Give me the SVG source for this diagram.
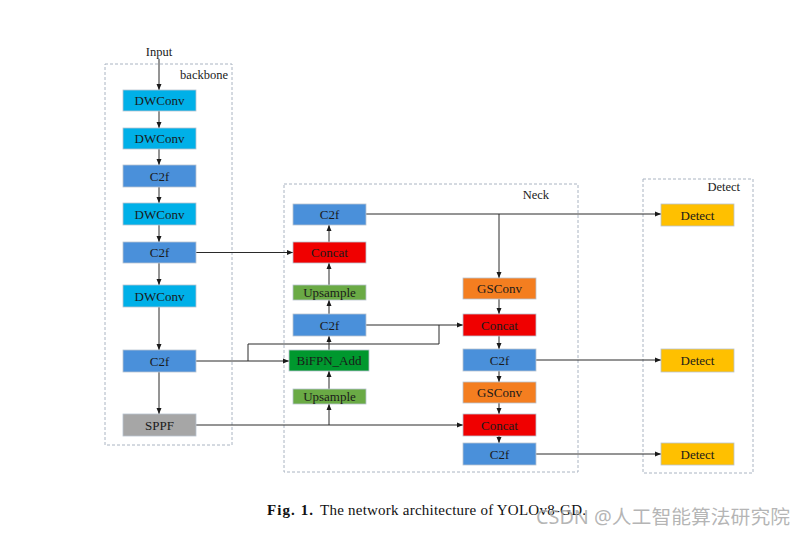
<svg xmlns="http://www.w3.org/2000/svg" width="805" height="536" viewBox="0 0 805 536">
<style>
.n{stroke:#b8c4d0;stroke-width:0.8}
.t{font-family:"Liberation Serif","Times New Roman",serif;font-size:13px;fill:#1a1a1a;text-anchor:middle;dominant-baseline:central}
.lbl{font-family:"Liberation Serif","Times New Roman",serif;font-size:12.5px;fill:#1a1a1a}
.grp{fill:none;stroke:#aab4c2;stroke-width:1;stroke-dasharray:3,2}
.dw{fill:#00B0E8}.c2f{fill:#4A90DA}.cc{fill:#F00000}.up{fill:#6AAA45}.bi{fill:#00982E}.gs{fill:#F47E20}.de{fill:#FFC000}.sp{fill:#A6A6A6}
#conn path{fill:none;stroke:#2a2a2a;stroke-width:1}
</style>
<defs>
<marker id="ah" markerWidth="6" markerHeight="6" refX="6" refY="3" orient="auto" markerUnits="userSpaceOnUse"><path d="M0,0.5 L6,3 L0,5.5 z" fill="#1a1a1a"/></marker>
</defs>
<rect width="805" height="536" fill="#fff"/>
<!-- groups -->
<g id="backbone-group"><rect class="grp" x="105" y="64" width="127" height="381"/><text class="lbl" x="228" y="79" text-anchor="end">backbone</text></g>
<g id="neck-group"><rect class="grp" x="284" y="184" width="294" height="288"/><text class="lbl" x="549" y="199" text-anchor="end">Neck</text></g>
<g id="detect-group"><rect class="grp" x="643" y="179" width="110" height="294"/><text class="lbl" x="740" y="191" text-anchor="end">Detect</text></g>
<text class="lbl" x="159" y="56" text-anchor="middle">Input</text>
<!-- connectors -->
<g id="conn">
<path d="M159,59 V90" marker-end="url(#ah)"/>
<path d="M159,111 V128" marker-end="url(#ah)"/>
<path d="M159,149 V165" marker-end="url(#ah)"/>
<path d="M159,187 V203" marker-end="url(#ah)"/>
<path d="M159,225 V242" marker-end="url(#ah)"/>
<path d="M159,263 V285" marker-end="url(#ah)"/>
<path d="M159,307 V350" marker-end="url(#ah)"/>
<path d="M159,372 V414" marker-end="url(#ah)"/>
<path d="M196,252.5 H293" marker-end="url(#ah)"/>
<path d="M196,361 H289" marker-end="url(#ah)"/>
<path d="M248,361 V344 H439 V325"/>
<path d="M366,325 H463" marker-end="url(#ah)"/>
<path d="M196,425 H463" marker-end="url(#ah)"/>
<path d="M329,425 V404" marker-end="url(#ah)"/>
<path d="M329,389 V371" marker-end="url(#ah)"/>
<path d="M329,350 V336" marker-end="url(#ah)"/>
<path d="M329,314 V300" marker-end="url(#ah)"/>
<path d="M329,285 V263" marker-end="url(#ah)"/>
<path d="M329,242 V225" marker-end="url(#ah)"/>
<path d="M366,214 H661" marker-end="url(#ah)"/>
<path d="M499,214 V278" marker-end="url(#ah)"/>
<path d="M499,299 V314" marker-end="url(#ah)"/>
<path d="M499,336 V349" marker-end="url(#ah)"/>
<path d="M499,371 V382" marker-end="url(#ah)"/>
<path d="M499,403 V414" marker-end="url(#ah)"/>
<path d="M499,436 V443" marker-end="url(#ah)"/>
<path d="M536,360 H661" marker-end="url(#ah)"/>
<path d="M536,454 H661" marker-end="url(#ah)"/>
</g>
<!-- backbone nodes -->
<g id="b-dwconv1"><rect class="n dw" x="123" y="90" width="73" height="21"/><text class="t" x="159.5" y="100.5">DWConv</text></g>
<g id="b-dwconv2"><rect class="n dw" x="123" y="128" width="73" height="21"/><text class="t" x="159.5" y="138.5">DWConv</text></g>
<g id="b-c2f1"><rect class="n c2f" x="123" y="165" width="73" height="22"/><text class="t" x="159.5" y="176">C2f</text></g>
<g id="b-dwconv3"><rect class="n dw" x="123" y="203" width="73" height="22"/><text class="t" x="159.5" y="214">DWConv</text></g>
<g id="b-c2f2"><rect class="n c2f" x="123" y="242" width="73" height="21"/><text class="t" x="159.5" y="252.5">C2f</text></g>
<g id="b-dwconv4"><rect class="n dw" x="123" y="285" width="73" height="22"/><text class="t" x="159.5" y="296">DWConv</text></g>
<g id="b-c2f3"><rect class="n c2f" x="123" y="350" width="73" height="22"/><text class="t" x="159.5" y="361">C2f</text></g>
<g id="b-sppf"><rect class="n sp" x="123" y="414" width="73" height="22"/><text class="t" x="159.5" y="425">SPPF</text></g>
<!-- neck left column -->
<g id="n-c2f-top"><rect class="n c2f" x="293" y="204" width="73" height="21"/><text class="t" x="329.5" y="214.5">C2f</text></g>
<g id="n-concat1"><rect class="n cc" x="293" y="242" width="73" height="21"/><text class="t" x="329.5" y="252.5">Concat</text></g>
<g id="n-upsample1"><rect class="n up" x="293" y="285" width="73" height="15"/><text class="t" x="329.5" y="292.5">Upsample</text></g>
<g id="n-c2f-mid"><rect class="n c2f" x="293" y="314" width="73" height="22"/><text class="t" x="329.5" y="325">C2f</text></g>
<g id="n-bifpn"><rect class="n bi" x="289" y="350" width="80" height="21"/><text class="t" x="329" y="360.5">BiFPN_Add</text></g>
<g id="n-upsample2"><rect class="n up" x="293" y="389" width="73" height="15"/><text class="t" x="329.5" y="396.5">Upsample</text></g>
<!-- neck right column -->
<g id="n-gsconv1"><rect class="n gs" x="463" y="278" width="73" height="21"/><text class="t" x="499.5" y="288.5">GSConv</text></g>
<g id="n-concat2"><rect class="n cc" x="463" y="314" width="73" height="22"/><text class="t" x="499.5" y="325">Concat</text></g>
<g id="n-c2f-r1"><rect class="n c2f" x="463" y="349" width="73" height="22"/><text class="t" x="499.5" y="360">C2f</text></g>
<g id="n-gsconv2"><rect class="n gs" x="463" y="382" width="73" height="21"/><text class="t" x="499.5" y="392.5">GSConv</text></g>
<g id="n-concat3"><rect class="n cc" x="463" y="414" width="73" height="22"/><text class="t" x="499.5" y="425">Concat</text></g>
<g id="n-c2f-r2"><rect class="n c2f" x="463" y="443" width="73" height="22"/><text class="t" x="499.5" y="454">C2f</text></g>
<!-- detect -->
<g id="d-detect1"><rect class="n de" x="661" y="204" width="73" height="22"/><text class="t" x="697.5" y="215">Detect</text></g>
<g id="d-detect2"><rect class="n de" x="661" y="349" width="73" height="23"/><text class="t" x="697.5" y="360.5">Detect</text></g>
<g id="d-detect3"><rect class="n de" x="661" y="443" width="73" height="22"/><text class="t" x="697.5" y="454">Detect</text></g>
<!-- caption -->
<text x="267" y="515" font-family="'Liberation Serif','Times New Roman',serif" font-size="15" fill="#111" font-weight="bold" textLength="46" lengthAdjust="spacing">Fig. 1.</text>
<text x="320" y="515" font-family="'Liberation Serif','Times New Roman',serif" font-size="15" fill="#111" textLength="266" lengthAdjust="spacing">The network architecture of YOLOv8-GD.</text>
<text x="536" y="524" font-family="'Noto Sans','Noto Sans CJK SC',sans-serif" font-size="19" fill="#a8a8a8" fill-opacity="0.85" textLength="254" lengthAdjust="spacingAndGlyphs">CSDN @人工智能算法研究院</text>
</svg>
